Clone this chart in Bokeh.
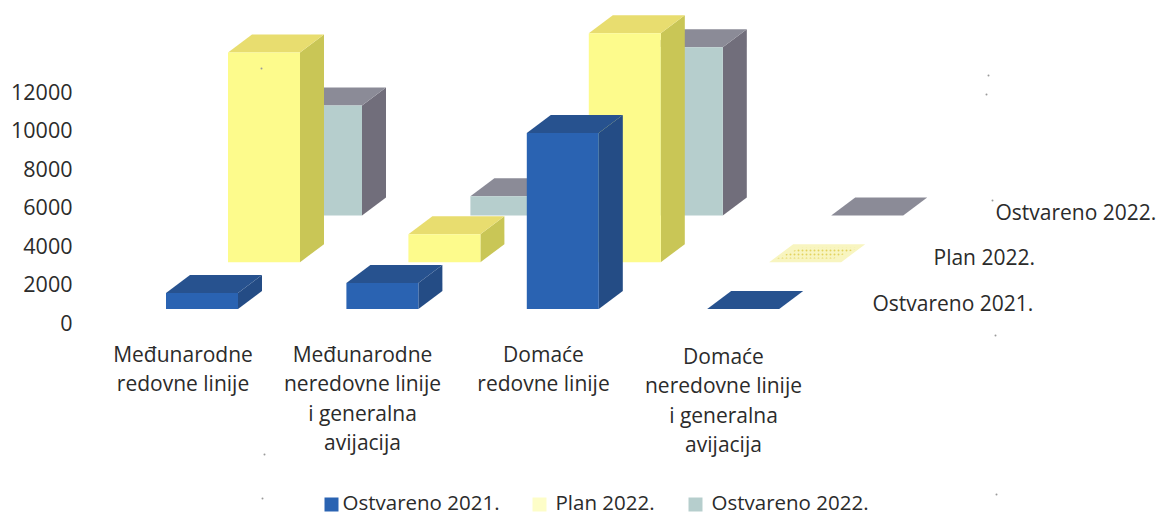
from bokeh.plotting import figure
from bokeh.models import FixedTicker, Range1d
from bokeh.core.properties import value
from bokeh.embed import file_html
from bokeh.resources import INLINE

categories = [
    ["Međunarodne", "redovne linije"],
    ["Međunarodne", "neredovne linije", "i generalna", "avijacija"],
    ["Domaće", "redovne linije"],
    ["Domaće", "neredovne linije", "i generalna", "avijacija"],
]
series_names = ["Ostvareno 2021.", "Plan 2022.", "Ostvareno 2022."]
ostvareno_2021 = [830, 1350, 9140, 0]
plan_2022 = [10900, 1450, 11900, 0]
ostvareno_2022 = [5710, 990, 8730, 0]
y_ticks = [0, 2000, 4000, 6000, 8000, 10000, 12000]

WIDTH, HEIGHT, LEFT = 1161, 515, 80
FONT = value("Open Sans")
TEXT = "#2b2b2b"
PX_PER_CAT = 180.4
PX_PER_VAL = 231.0 / 12000
X0_PX, Y0_PX = 165.5, 322.0          # picture pixel of x=0 / value 0


def lx(px):
    return (px - X0_PX) / PX_PER_CAT


def ly(py):
    return (Y0_PX - py) / PX_PER_VAL


BAR_W = 72 / PX_PER_CAT
DEPTH_X = 24 / PX_PER_CAT
DEPTH_Y = 18 / PX_PER_VAL
STEP_X = 62 / PX_PER_CAT
BASE0 = 13.5 / PX_PER_VAL
STEP_Y = 46.8 / PX_PER_VAL

p = figure(width=WIDTH, height=HEIGHT, output_backend="svg", toolbar_location=None,
           x_range=Range1d(lx(LEFT), lx(WIDTH)),
           y_range=Range1d(ly(HEIGHT), ly(0)),
           min_border_left=LEFT, min_border_right=0, min_border_top=0, min_border_bottom=0,
           x_axis_location=None, outline_line_color=None)
p.grid.visible = False
ax = p.yaxis[0]
ax.ticker = FixedTicker(ticks=y_ticks)
ax.axis_line_color = None
ax.major_tick_line_color = None
ax.minor_tick_line_color = None
ax.major_label_text_font = "Open Sans"
ax.major_label_text_font_size = "21.5px"
ax.major_label_text_color = TEXT
ax.major_label_standoff = 2

styles = [
    ("#2a63b2", "#27528f", "#244c85"),
    ("#fdfb8c", "#e8dd6f", "#c9c656"),
    ("#b6cecd", "#8b8b97", "#716e7b"),
]
values = [ostvareno_2021, plan_2022, ostvareno_2022]

for s in [2, 1, 0]:
    front_c, top_c, side_c = styles[s]
    for c, v in enumerate(values[s]):
        x0 = c + s * STEP_X
        x1 = x0 + BAR_W
        base = BASE0 + s * STEP_Y
        top = base + v
        if s == 1 and v == 0:
            # the flat plan tile is pale and speckled in the scan
            p.patch([x0, x1, x1 + DEPTH_X, x0 + DEPTH_X], [top, top, top + DEPTH_Y, top + DEPTH_Y],
                    fill_color="#f8f5c0", line_color=None)
            inset = 0.1 * BAR_W
            p.patch([x0 + inset, x1 - inset, x1 + DEPTH_X - inset, x0 + DEPTH_X + inset],
                    [top + 0.2 * DEPTH_Y, top + 0.2 * DEPTH_Y, top + 0.8 * DEPTH_Y, top + 0.8 * DEPTH_Y],
                    fill_color="#f8f5c0", line_color=None,
                    hatch_pattern="dot", hatch_color="#e3d35e", hatch_scale=4, hatch_weight=2)
            continue
        if v > 0:
            p.patch([x1, x1 + DEPTH_X, x1 + DEPTH_X, x1],
                    [base, base + DEPTH_Y, top + DEPTH_Y, top], fill_color=side_c, line_color=None)
        p.patch([x0, x1, x1 + DEPTH_X, x0 + DEPTH_X],
                [top, top, top + DEPTH_Y, top + DEPTH_Y], fill_color=top_c, line_color=None)
        if v > 0:
            p.patch([x0, x1, x1, x0], [base, base, top, top], fill_color=front_c, line_color=None)

# category labels
LINE_PITCH = 29.5
label_centres = [182.5, 362, 543, 723]
for c, lines in enumerate(categories):
    first = 353 if c < 3 else 355
    for i, line in enumerate(lines):
        p.text([lx(label_centres[c])], [ly(first + i * LINE_PITCH)], text=[line],
               text_font=FONT, text_font_size="21px", text_color=TEXT,
               text_align="center", text_baseline="middle")

# depth-axis series labels
depth_labels = [(872, 302), (933, 256), (995, 211)]
for name, (lpx, lpy) in zip(series_names, depth_labels):
    p.text([lx(lpx)], [ly(lpy)], text=[name], text_font=FONT, text_font_size="21px",
           text_color=TEXT, text_align="left", text_baseline="middle")

# legend
legend_items = [(331, 342), (539, 555), (695, 711)]
legend_colors = ["#2a63b2", "#fdfdc8", "#b6cecd"]
for name, col, (swatch, txt) in zip(series_names, legend_colors, legend_items):
    p.scatter([lx(swatch)], [ly(504)], marker="square", size=14, fill_color=col, line_color=None)
    p.text([lx(txt)], [ly(501)], text=[name], text_font=FONT, text_font_size="20.5px",
           text_color=TEXT, text_align="left", text_baseline="middle")

# stray marks of the scan
specks = [(261, 68), (988, 75), (986, 94), (992, 200), (264, 454), (262, 498), (996, 494), (995, 335)]
p.scatter([lx(a) for a, _ in specks], [ly(b) for _, b in specks], marker="circle", size=2,
          fill_color="#9a9a9a", line_color=None)

open("out.html", "w").write(file_html(p, INLINE))
